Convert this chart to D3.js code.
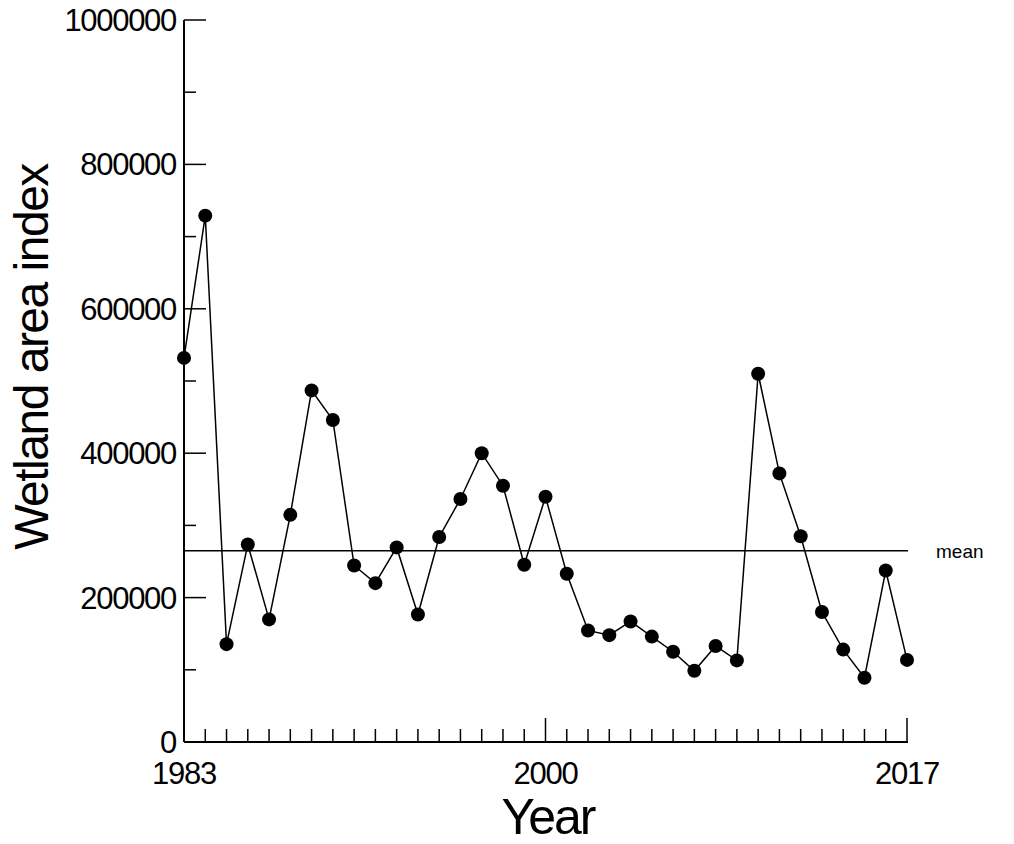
<!DOCTYPE html>
<html><head><meta charset="utf-8">
<script src="https://cdn.jsdelivr.net/npm/d3@7"></script>
<style>body{margin:0;background:#fff}text{font-family:"Liberation Sans",Arial,sans-serif}</style>
</head><body><div id="vis-container"></div>
<script>
const years = d3.range(1983, 2018);
const wetland = [532000, 729000, 135500, 273600, 169800, 314600, 487000, 446000, 244500, 220000,
    269500, 176500, 284000, 336600, 400000, 355000, 245500, 339600, 233000, 154500,
    148000, 167000, 146000, 125000, 98600, 133000, 113000, 510000, 372000, 285000,
    180000, 128000, 89000, 237500, 113700];
const meanValue = 265000;
const yTicks = [0, 200000, 400000, 600000, 800000, 1000000];
const xLabels = [1983, 2000, 2017];

const svg = d3.select("#vis-container").append("svg")
    .attr("width", 1014).attr("height", 844);

const x = d3.scaleLinear().domain([1983, 2017]).range([184, 907]);
const y = d3.scaleLinear().domain([0, 1000000]).range([742, 20]);

// y axis
svg.append("line").attr("x1", 184).attr("x2", 184).attr("y1", 20).attr("y2", 742)
    .attr("stroke", "#000").attr("stroke-width", 2);
svg.selectAll(".ytick").data(d3.range(0, 1000001, 100000)).enter().append("line")
    .attr("x1", 184).attr("x2", d => d % 200000 === 0 ? 206 : 196)
    .attr("y1", d => y(d)).attr("y2", d => y(d))
    .attr("stroke", "#000").attr("stroke-width", 1.5);
svg.selectAll(".ylab").data(yTicks).enter().append("text")
    .attr("x", 176).attr("y", d => y(d) + 11)
    .attr("text-anchor", "end").attr("font-size", 31).attr("letter-spacing", -1.3).text(d => d);

// x axis
svg.append("line").attr("x1", 184).attr("x2", 908).attr("y1", 742).attr("y2", 742)
    .attr("stroke", "#000").attr("stroke-width", 2);
svg.selectAll(".xtick").data(years).enter().append("line")
    .attr("x1", d => x(d)).attr("x2", d => x(d))
    .attr("y1", 742).attr("y2", d => (d === 2000 || d === 2017) ? 718 : 729)
    .attr("stroke", "#000").attr("stroke-width", 1.5);
svg.selectAll(".xlab").data(xLabels).enter().append("text")
    .attr("x", d => x(d)).attr("y", 784)
    .attr("text-anchor", "middle").attr("font-size", 31).attr("letter-spacing", -1.3).text(d => d);

svg.append("text").attr("x", 548).attr("y", 834).attr("text-anchor", "middle")
    .attr("font-size", 50).attr("letter-spacing", -2).text("Year");
svg.append("text").attr("transform", "translate(48,357) rotate(-90)")
    .attr("text-anchor", "middle").attr("font-size", 48).attr("letter-spacing", -1.5).text("Wetland area index");

// mean
svg.append("line").attr("x1", 184).attr("x2", 908).attr("y1", y(meanValue)).attr("y2", y(meanValue))
    .attr("stroke", "#000").attr("stroke-width", 1.5);
svg.append("text").attr("x", 936).attr("y", y(meanValue) + 7).attr("font-size", 19).text("mean");

// series
const pts = years.map((yr, i) => [yr, wetland[i]]);
svg.append("path").datum(pts)
    .attr("d", d3.line().x(d => x(d[0])).y(d => y(d[1])))
    .attr("fill", "none").attr("stroke", "#000").attr("stroke-width", 1.5);
svg.selectAll(".dot").data(pts).enter().append("circle")
    .attr("cx", d => x(d[0])).attr("cy", d => y(d[1])).attr("r", 7).attr("fill", "#000");
</script></body></html>
